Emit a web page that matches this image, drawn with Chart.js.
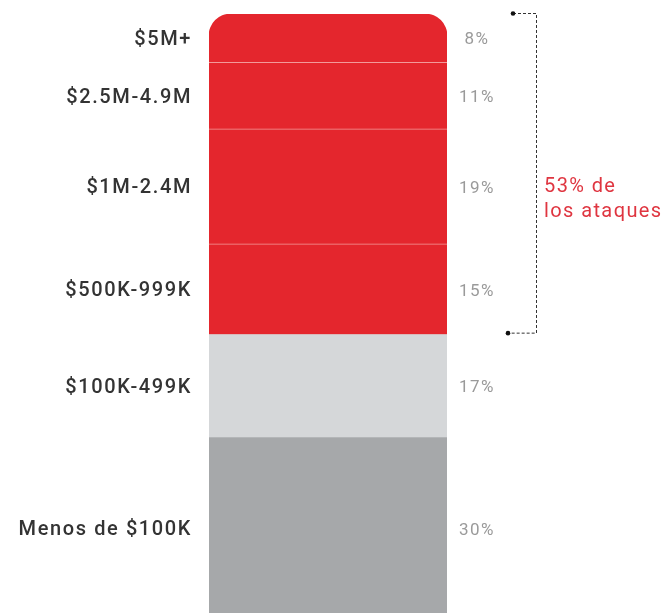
<!DOCTYPE html>
<html>
<head>
<meta charset="utf-8">
<script src="https://cdn.jsdelivr.net/npm/chart.js@4"></script>
<style>
html,body{margin:0;padding:0;background:#fff;overflow:hidden;}
canvas{display:block;}
</style>
</head>
<body>
<canvas id="c" width="663" height="619"></canvas>
<script>
// Data (bottom of stack first)
const categories = ['Menos de $100K', '$100K-499K', '$500K-999K', '$1M-2.4M', '$2.5M-4.9M', '$5M+'];
const shares = [30, 17, 15, 19, 11, 8];
const percentLabels = ['30%', '17%', '15%', '19%', '11%', '8%'];
const bracketFrom = 2; // first bracketed category ($500K-999K)
const bracketTo = 5;   // last bracketed category ($5M+)
const bracketText = ['53% de', 'los ataques'];

const RED = '#e4262d', LIGHT = '#d5d7d9', DARK = '#a6a8aa';
const fills = [DARK, LIGHT, RED, RED, RED, RED];

const datasets = shares.map((v, i) => {
  const isTop = i === shares.length - 1;
  const sep = (i >= 2 && i < shares.length - 1);
  return {
    label: categories[i],
    data: [v],
    backgroundColor: fills[i],
    borderColor: '#f29a9a',
    borderWidth: sep ? {top: 1, bottom: 0, left: 0, right: 0} : 0,
    borderSkipped: false,
    borderRadius: isTop ? {topLeft: 22, topRight: 22, bottomLeft: 0, bottomRight: 0} : 0,
    barPercentage: 1,
    categoryPercentage: 1,
    stack: 's'
  };
});

const FONT = 'Roboto, "Liberation Sans", sans-serif';

const annot = {
  id: 'annot',
  afterDatasetsDraw(chart) {
    const ctx = chart.ctx;
    ctx.save();
    ctx.textBaseline = 'middle';
    const tops = [], bases = [];
    chart.data.datasets.forEach((ds, i) => {
      const el = chart.getDatasetMeta(i).data[0];
      const top = Math.min(el.y, el.base), bot = Math.max(el.y, el.base);
      tops[i] = top; bases[i] = bot;
      const mid = (top + bot) / 2;
      // category label on left
      ctx.font = '500 20px ' + FONT;
      ctx.letterSpacing = '1.6px';
      ctx.fillStyle = '#333';
      ctx.textAlign = 'right';
      ctx.fillText(categories[i], el.x - el.width / 2 - 17, mid + 2);
      // percent label on right
      ctx.font = '17px ' + FONT;
      ctx.letterSpacing = '1.5px';
      ctx.fillStyle = '#9a9a9a';
      ctx.textAlign = 'center';
      ctx.fillText(percentLabels[i], el.x + el.width / 2 + 30, mid + 2);
    });
    // bracket
    const yTop = tops[bracketTo] - 1;
    const yBot = bases[bracketFrom] - 2;
    const xv = 536;
    ctx.strokeStyle = '#333';
    ctx.lineWidth = 1;
    ctx.setLineDash([3, 2]);
    ctx.beginPath();
    ctx.moveTo(513, yTop + 0.5); ctx.lineTo(xv + 0.5, yTop + 0.5);
    ctx.lineTo(xv + 0.5, yBot + 0.5); ctx.lineTo(508, yBot + 0.5);
    ctx.stroke();
    ctx.setLineDash([]);
    ctx.fillStyle = '#111';
    ctx.beginPath(); ctx.arc(513, yTop + 0.5, 2.3, 0, Math.PI * 2); ctx.fill();
    ctx.beginPath(); ctx.arc(508, yBot + 0.5, 2.3, 0, Math.PI * 2); ctx.fill();
    // bracket text
    const yMid = (yTop + yBot) / 2;
    ctx.font = '20px ' + FONT;
    ctx.letterSpacing = '1.4px';
    ctx.fillStyle = '#df3540';
    ctx.textAlign = 'left';
    ctx.textBaseline = 'alphabetic';
    ctx.fillText(bracketText[0], xv + 8, yMid + 19);
    ctx.fillText(bracketText[1], xv + 8, yMid + 44);
    ctx.restore();
  }
};

new Chart(document.getElementById('c'), {
  type: 'bar',
  data: { labels: [''], datasets },
  options: {
    responsive: false,
    animation: false,
    layout: { padding: { left: 209, right: 216, top: 14, bottom: 0 } },
    plugins: { legend: { display: false }, tooltip: { enabled: false } },
    scales: {
      x: { display: false, stacked: true },
      y: { display: false, stacked: true, min: 0, max: 100 }
    }
  },
  plugins: [annot]
});
</script>
</body>
</html>
